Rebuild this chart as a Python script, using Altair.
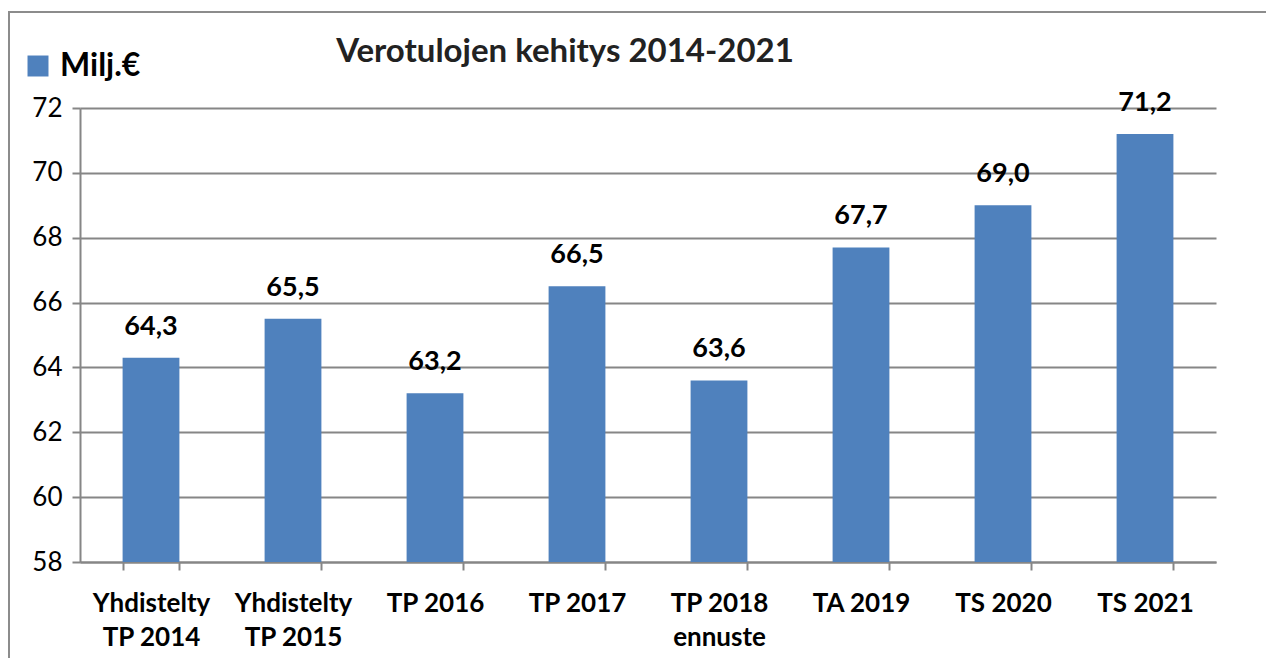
import altair as alt
import pandas as pd

categories = ["Yhdistelty\nTP 2014", "Yhdistelty\nTP 2015", "TP 2016", "TP 2017",
              "TP 2018\nennuste", "TA 2019", "TS 2020", "TS 2021"]
values = [64.3, 65.5, 63.2, 66.5, 63.6, 67.7, 69.0, 71.2]
series = "Milj.€"
title_text = "Verotulojen kehitys 2014-2021"

df = pd.DataFrame({
    "cat": categories,
    "val": values,
    "lab": [f"{v:.1f}".replace(".", ",") for v in values],
    "series": [series] * len(values),
})
title_df = pd.DataFrame({"t": [title_text]})

FONT = "Lato"
W, H = 1136, 454

x = alt.X("cat:N", sort=categories, title=None,
          scale=alt.Scale(paddingInner=0.6, paddingOuter=0.3),
          axis=alt.Axis(labelAngle=0, labelFontSize=26, labelFontWeight="bold",
                        labelColor="black", labelFont=FONT, labelPadding=20,
                        labelExpr="split(datum.label, '\\n')", labelLineHeight=34,
                        tickBand="extent", tickSize=8, tickColor="#868686", tickWidth=2,
                        domainColor="#868686", domainWidth=2, grid=False))
y = alt.Y("val:Q", title=None,
          scale=alt.Scale(domain=[58, 72], nice=False, zero=False),
          axis=alt.Axis(values=[58, 60, 62, 64, 66, 68, 70, 72], labelFontSize=26,
                        labelColor="black", labelFont=FONT, labelPadding=10,
                        tickSize=8, tickColor="#868686", tickWidth=2,
                        domainColor="#868686", domainWidth=2,
                        gridColor="#868686", gridWidth=2))

bars = alt.Chart(df).mark_bar(clip=True).encode(
    x=x, y=y,
    color=alt.Color("series:N", scale=alt.Scale(range=["#4F81BD"]),
                    legend=alt.Legend(title=None, orient="none", legendX=-58, legendY=-58,
                                      symbolType="square", symbolSize=440,
                                      symbolStrokeWidth=0,
                                      labelFontSize=32, labelFontWeight="bold",
                                      labelFont=FONT, labelColor="black", labelOffset=6)),
)

labels = alt.Chart(df).mark_text(baseline="bottom", dy=-17, fontSize=27,
                                 fontWeight="bold", font=FONT, color="black").encode(
    x=alt.X("cat:N", sort=categories), y="val:Q", text="lab:N")

title = alt.Chart(title_df).mark_text(align="center", baseline="alphabetic", fontSize=33,
                                      fontWeight="bold", font=FONT, color="#222222").encode(
    x=alt.value(485), y=alt.value(-46), text="t:N")

border = alt.Chart(title_df).mark_rect(fill=None, stroke="#8c8c8c", strokeWidth=2).encode(
    x=alt.value(-71), x2=alt.value(1300), y=alt.value(-96), y2=alt.value(700))

chart = alt.layer(border, bars, labels, title).properties(
    width=W, height=H,
    autosize=alt.AutoSizeParams(type="none"),
    padding={"left": 72, "top": 100, "right": 50, "bottom": 96},
).configure(background="white").configure_view(stroke=None)

chart.save("out.html", embed_options={"renderer": "svg", "actions": False})
